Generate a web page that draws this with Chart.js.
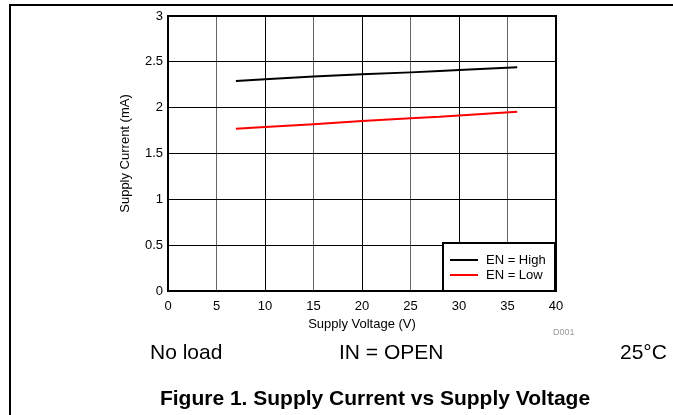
<!DOCTYPE html>
<html lang="en">
<head>
  <meta charset="UTF-8">
  <title>Supply Current vs Supply Voltage</title>
  <script src="https://cdn.jsdelivr.net/npm/chart.js@4.4.0/dist/chart.umd.min.js"></script>
  <style>
    body { margin: 0; background: #fff; }
    #wrap { position: relative; width: 673px; height: 415px; font-family: "Liberation Sans", Arial, sans-serif; }
    #frame { position: absolute; left: 9px; top: 4px; width: 664px; height: 411px; border-top: 2px solid #000; border-left: 2px solid #000; box-sizing: border-box; }
    #legend { position: absolute; left: 442px; top: 242px; width: 114px; height: 50px; border: 2px solid #000; box-sizing: border-box; background: #fff; font-size: 13px; }
    .item { position: absolute; left: 6px; height: 15px; line-height: 15px; }
    .item span.sw { position: absolute; left: 0; top: 7px; width: 28px; height: 2px; }
    .item span.tx { position: absolute; left: 36px; white-space: nowrap; color: #000; }
    .note { position: absolute; font-size: 21px; color: #000; white-space: nowrap; }
    #code { position: absolute; left: 553px; top: 327px; font-size: 9px; color: #999; }
    #caption { position: absolute; left: 0; width: 750px; top: 386px; text-align: center; font-size: 21px; font-weight: bold; }
  </style>
</head>
<body>
  <div id="wrap">
    <canvas id="chart" width="673" height="415"></canvas>
    <div id="frame"></div>
    <div id="legend"></div>
    <div id="code">D001</div>
    <div class="note" style="left:150px; top:340px;">No load</div>
    <div class="note" style="left:339px; top:340px;">IN = OPEN</div>
    <div class="note" style="left:620px; top:340px;">25°C</div>
    <div id="caption">Figure 1. Supply Current vs Supply Voltage</div>
  </div>

  <script>
    // values
    const voltage = [7, 10, 15, 20, 25, 28, 30, 36];
    const currentHigh = [2.29, 2.31, 2.34, 2.365, 2.385, 2.40, 2.41, 2.44];
    const currentLow = [1.77, 1.79, 1.82, 1.855, 1.885, 1.90, 1.915, 1.955];
    const seriesNames = ['EN = High', 'EN = Low'];
    const seriesColors = ['#000000', '#ff0000'];

    function toPoints(ys) {
      return voltage.map((v, i) => ({ x: v, y: ys[i] }));
    }

    // thick box round the plot area
    const plotBox = {
      id: 'plotBox',
      afterDatasetsDraw(chart) {
        const a = chart.chartArea;
        const c = chart.ctx;
        c.save();
        c.strokeStyle = '#000';
        c.lineWidth = 2;
        c.strokeRect(a.left, a.top, a.right - a.left, a.bottom - a.top);
        c.restore();
      }
    };

    const font = { family: '"Liberation Sans", Arial, sans-serif', size: 13 };

    const chart = new Chart(document.getElementById('chart').getContext('2d'), {
      type: 'line',
      data: {
        datasets: [
          { label: seriesNames[0], data: toPoints(currentHigh), borderColor: seriesColors[0], borderWidth: 2, pointRadius: 0, tension: 0, fill: false },
          { label: seriesNames[1], data: toPoints(currentLow), borderColor: seriesColors[1], borderWidth: 2, pointRadius: 0, tension: 0, fill: false }
        ]
      },
      options: {
        responsive: false,
        animation: false,
        layout: { padding: { left: 110, top: 16, right: 117, bottom: 82 } },
        plugins: { legend: { display: false }, tooltip: { enabled: false } },
        scales: {
          x: {
            type: 'linear', min: 0, max: 40,
            ticks: { stepSize: 5, color: '#000', font: font, padding: 8, maxRotation: 0 },
            grid: { color: (c) => (c.tick && c.tick.value % 10 === 5) ? '#666' : '#000', lineWidth: 1, drawTicks: false },
            border: { display: false },
            title: { display: true, text: 'Supply Voltage (V)', color: '#000', font: font, padding: { top: 0, bottom: 1 } },
            afterFit(s) { s.height = 42; }
          },
          y: {
            min: 0, max: 3,
            ticks: { stepSize: 0.5, color: '#000', font: font, padding: 5, callback: (v) => String(v) },
            grid: { color: '#000', lineWidth: 1, drawTicks: false },
            border: { display: false },
            title: { display: true, text: 'Supply Current (mA)', color: '#000', font: font, padding: { top: 8, bottom: 0 } },
            afterFit(s) { s.width = 58; }
          }
        }
      },
      plugins: [plotBox]
    });

    // legend box from the dataset names and colours
    const legend = document.getElementById('legend');
    seriesNames.forEach((name, i) => {
      const row = document.createElement('div');
      row.className = 'item';
      row.style.top = (8 + i * 15) + 'px';
      row.innerHTML = '<span class="sw" style="background:' + seriesColors[i] + '"></span><span class="tx">' + name + '</span>';
      legend.appendChild(row);
    });
  </script>
</body>
</html>
